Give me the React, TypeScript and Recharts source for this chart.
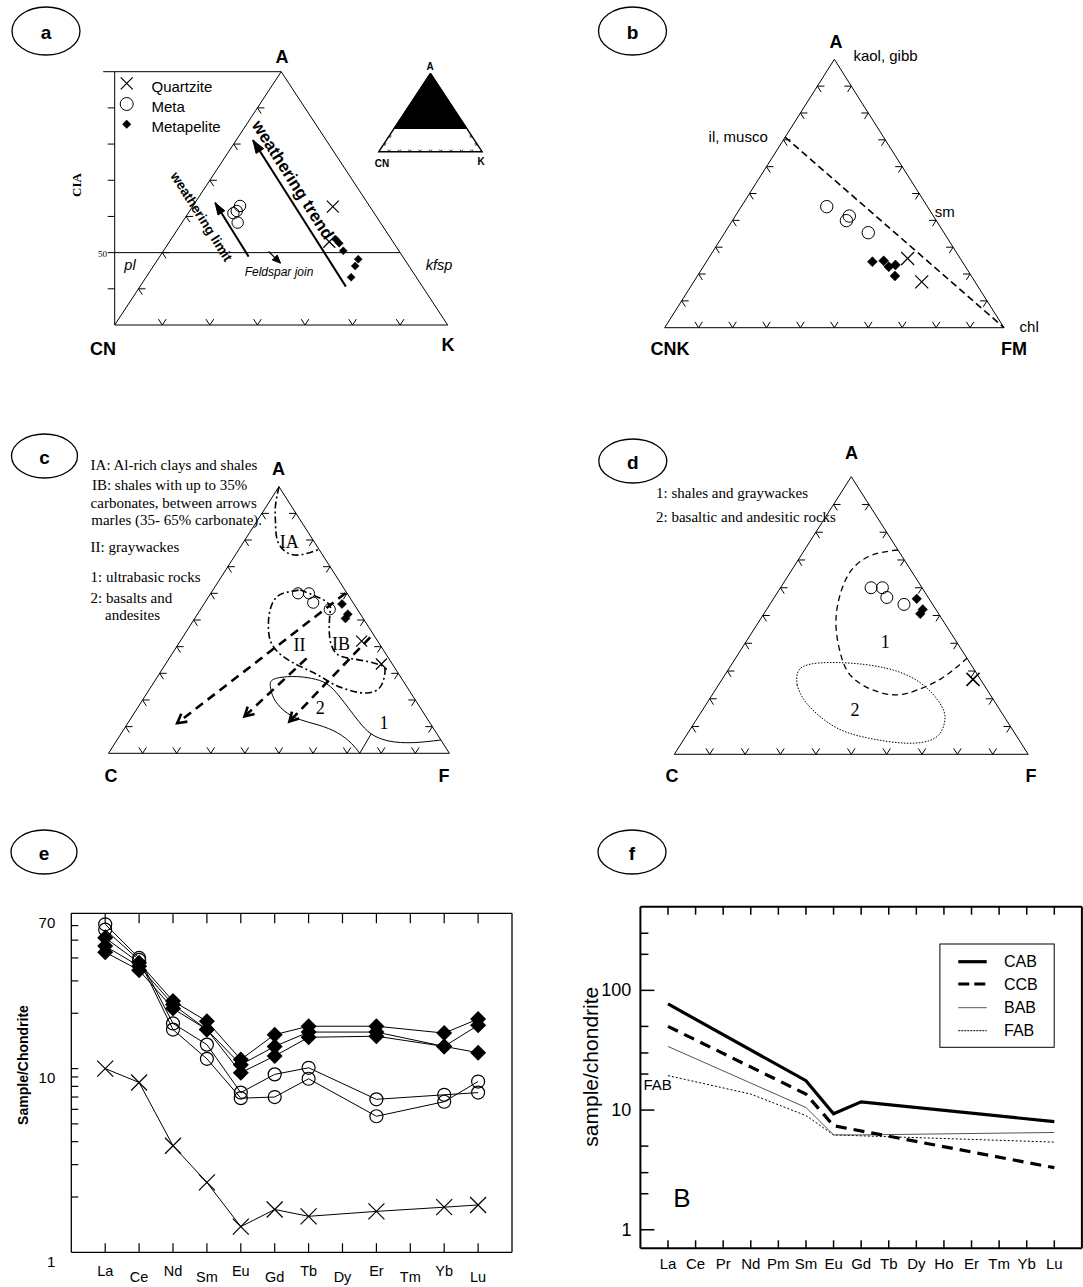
import React from 'react';
import { ComposedChart, Line, Scatter, Area, XAxis, YAxis } from 'recharts';

const W = 1083;
const H = 1287;
const SANS = "'Liberation Sans', Arial, Helvetica, sans-serif";
const SERIF = "'Liberation Serif', 'Times New Roman', Times, serif";

type Comp = [number, number, number]; // [top apex, lower-left, lower-right] in %
type Frame = { left: number; top: number; width: number; height: number; xd: [number, number]; yd: [number, number] };

// ---------- a: A - CN - K (CIA) ----------
const aQuartzite: Comp[] = [[62.7, 7.8, 29.5], [53.0, 13.4, 33.6]];
const aMeta: Comp[] = [[62.9, 27.2, 9.9], [61.5, 28.6, 9.9], [60.9, 29.6, 9.5], [58.3, 30.0, 11.7]];
const aPelite: Comp[] = [[53.7, 11.7, 34.6], [52.6, 11.5, 35.9], [50.5, 11.7, 37.8], [48.2, 9.7, 42.1], [46.3, 11.3, 42.4], [43.2, 13.7, 43.1]];
const aTrend: Comp[] = [[40.6, 16.1, 43.3], [81.1, 15.4, 3.5]];
const aLimit: Comp[] = [[48.9, 32.4, 18.7], [63.8, 32.0, 4.2]];
const aJoin: Comp[] = [[50.3, 27.5, 22.2], [47.1, 26.6, 26.3]];
const ciaTicks = [40, 50, 60, 70, 80, 90, 100];
const insetFill: Comp[] = [[29, 71, 0], [100, 0, 0], [29, 0, 71]];

// ---------- b: A - CNK - FM ----------
const bQuartzite: Comp[] = [[25.8, 15.5, 58.7], [17.1, 15.7, 67.2]];
const bMeta: Comp[] = [[45.1, 29.7, 25.2], [41.6, 24.8, 33.6], [39.9, 26.5, 33.6], [35.4, 22.3, 42.3]];
const bPelite: Comp[] = [[24.6, 26.5, 48.9], [24.9, 23.0, 52.1], [22.7, 22.6, 54.7], [23.4, 20.3, 56.3], [19.3, 22.5, 58.2]];
const bIlliteChlorite: Comp[] = [[71, 29, 0], [0, 0, 100]];

// ---------- c, d: A - C - F ----------
const acfMeta: Comp[] = [[60.0, 14.4, 25.6], [60.0, 11.2, 28.8], [56.5, 11.7, 31.8], [54.0, 8.1, 37.9]];
const acfPelite: Comp[] = [[56.0, 3.5, 40.5], [52.2, 3.7, 44.1], [50.6, 5.2, 44.2]];
const cQuartzite: Comp[] = [[42.1, 4.7, 53.2], [33.5, 3.2, 63.3]];
const dQuartzite: Comp[] = [[27.0, 2.1, 70.9]];

const cFieldIA: Comp[] = [[100, 0, 0], [92.5, 4.8, 2.7], [86.2, 7.9, 5.9], [80.0, 10.5, 9.5], [75.6, 10.2, 14.2], [74.4, 6.7, 18.9], [76.5, 0, 23.5]];
const cFieldII: Comp[] = [
  [61.3, 13.2, 25.5], [56.8, 7.6, 35.6], [52.6, 8.7, 38.7], [46.5, 12.0, 41.5], [41.1, 14.2, 44.7], [37.1, 14.3, 48.6],
  [35.6, 11.4, 53.0], [34.5, 7.0, 58.5], [33.2, 3.8, 63.0], [31.4, 3.2, 65.4], [27.2, 5.8, 67.0], [24.1, 8.8, 67.1],
  [22.6, 13.0, 64.4], [23.6, 17.4, 59.0], [26.0, 21.1, 52.9], [29.6, 24.1, 46.3], [32.6, 27.5, 39.9], [36.3, 30.6, 33.1],
  [41.1, 31.6, 27.3], [47.2, 29.5, 23.3], [53.8, 25.7, 20.5], [58.6, 21.4, 20.0], [60.4, 17.5, 22.1],
];
const cField12: Comp[] = [
  [0, 26.3, 73.7], [3.7, 26.9, 69.4], [7.7, 29.0, 63.3], [10.6, 33.1, 56.3], [12.7, 37.6, 49.7], [16.0, 40.5, 43.5],
  [20.6, 41.2, 38.2], [25.0, 40.0, 35.0], [27.8, 37.6, 34.6], [28.8, 31.6, 39.6], [28.1, 26.4, 45.5], [26.0, 22.9, 51.1],
  [21.5, 21.6, 56.9], [16.9, 21.1, 62.0], [11.9, 20.6, 67.5], [7.3, 19.3, 73.4], [4.6, 15.4, 80.0], [4.0, 8.6, 87.4], [5.0, 0, 95.0],
];
const cDivider: Comp[] = [[0, 26.3, 73.7], [7.3, 19.3, 73.4]];
const cArrows: Comp[][] = [
  [[60.0, 0.5, 39.5], [11.3, 74.2, 14.5]],
  [[35.6, 24.1, 40.3], [13.8, 53.2, 33.0]],
  [[43.5, 1.5, 55.0], [11.9, 41.0, 47.1]],
];
const dField1: Comp[] = [
  [73.6, 0, 26.4], [71.8, 8.1, 20.1], [66.4, 16.7, 16.9], [56.8, 24.9, 18.3], [46.0, 31.3, 22.7], [35.2, 35.2, 29.6],
  [28.0, 35.9, 36.1], [23.2, 32.4, 44.4], [21.4, 26.5, 52.1], [23.2, 19.7, 57.1], [27.4, 10.7, 61.9], [34.6, 0, 65.4],
];
const dField2: Comp[] = [
  [25.0, 52.8, 22.2], [31.6, 47.8, 20.6], [33.0, 36.3, 30.7], [31.0, 24.6, 44.4], [25.6, 17.5, 56.9], [17.2, 15.8, 67.0],
  [11.2, 18.1, 70.7], [5.8, 23.5, 70.7], [4.0, 32.3, 63.7], [5.8, 42.1, 52.1], [10.0, 49.8, 40.2], [18.4, 53.4, 28.2],
];

// ---------- e: REE of the samples ----------
const eElements = ['La', 'Ce', 'Nd', 'Sm', 'Eu', 'Gd', 'Tb', 'Dy', 'Er', 'Tm', 'Yb', 'Lu'];
const eQuartzite = [10.0, 8.4, 3.8, 2.4, 1.38, 1.71, 1.57, null, 1.67, null, 1.76, 1.81];
const eMetaA = [61, 40, 17.6, 13.5, 7.4, 9.3, 10.1, null, 6.8, null, 7.2, 7.4];
const eMetaB = [57, 39, 16.3, 11.3, 6.9, 7.0, 8.8, null, 5.5, null, 6.6, 8.5];
const ePeliteA = [51.5, 37.7, 23.3, 18.1, 11.2, 15.3, 17.0, null, 17.0, null, 15.6, 18.6];
const ePeliteB = [46.4, 36.1, 22.3, 16.3, 10.5, 13.2, 15.8, null, 15.8, null, 13.2, 17.2];
const ePeliteC = [43.0, 34.3, 21.2, 16.3, 9.5, 11.7, 14.8, null, 15.0, null, 13.2, 12.2];
const eYTicks = [1, 2, 3, 4, 5, 6, 7, 8, 9, 10, 20, 30, 40, 50, 60, 70];
const eYLabels = [1, 10, 70];

// ---------- f: reference basalts ----------
const fElements = ['La', 'Ce', 'Pr', 'Nd', 'Pm', 'Sm', 'Eu', 'Gd', 'Tb', 'Dy', 'Ho', 'Er', 'Tm', 'Yb', 'Lu'];
const fCAB = [77, null, null, null, null, 17.6, 9.3, 11.7, null, null, null, null, null, null, 8.0];
const fCCB = [50, null, null, null, null, 13.6, 7.4, null, null, null, null, null, null, null, 3.3];
const fBAB = [34, null, null, null, null, 10.5, 6.2, 6.2, null, null, null, null, null, null, 6.5];
const fFAB = [19.4, null, null, 13.6, null, 9.0, 6.2, null, null, null, null, null, null, null, 5.4];
const fYTicks = [1, 2, 3, 5, 10, 20, 30, 50, 100, 200, 300];
const fYLabels = [1, 10, 100];

// ---------- layout ----------
const frameA: Frame = { left: 114.7, top: 71.7, width: 333, height: 253.3, xd: [15, 85], yd: [30, 100] };
const frameInset: Frame = { left: 378.8, top: 73.3, width: 103.3, height: 78.4, xd: [0, 100], yd: [0, 100] };
const frameB: Frame = { left: 664.7, top: 59.3, width: 339.3, height: 268.4, xd: [0, 100], yd: [0, 100] };
const frameC: Frame = { left: 108.5, top: 486.7, width: 340.9, height: 266.6, xd: [0, 100], yd: [0, 100] };
const frameD: Frame = { left: 674.3, top: 476.7, width: 353.9, height: 277.6, xd: [0, 100], yd: [0, 100] };
const frameE = { left: 71.3, top: 913.3, width: 440.7, height: 339 };
const frameF = { left: 640.4, top: 906.7, width: 441.5, height: 341.6 };

const toXY = (c: Comp) => {
  const s = c[0] + c[1] + c[2];
  return { x: ((c[2] + c[0] / 2) * 100) / s, y: (c[0] * 100) / s };
};
const pts = (list: Comp[]) => list.map(toXY);
const closed = (list: Comp[]) => pts([...list, list[0]]);
const margins = (f: { left: number; top: number; width: number; height: number }, axis = 0) => ({
  left: f.left - axis,
  top: f.top - axis,
  right: W - f.left - f.width - axis,
  bottom: H - f.top - f.height - axis,
});
const unit = (x: number, y: number) => {
  const l = Math.hypot(x, y);
  return [x / l, y / l];
};
const tenths = [10, 20, 30, 40, 50, 60, 70, 80, 90];

function edgeTicks(side: string, values: number[], base = 0) {
  return values.map((v) => {
    const c: Comp = side === 'left' ? [v, 100 - v, 0] : side === 'right' ? [v, 0, 100 - v] : [base, 100 - base - v, v];
    return { ...toXY(c), side };
  });
}

function arrowTip(f: Frame, seg: Comp[]) {
  const [a, b] = seg.map(toXY);
  const sx = f.width / (f.xd[1] - f.xd[0]);
  const sy = f.height / (f.yd[1] - f.yd[0]);
  return [{ ...b, angle: Math.atan2(-(b.y - a.y) * sy, (b.x - a.x) * sx) }];
}

// ---------- shapes ----------
const cross = (s: number, sw = 1.2) => (p: any) => (
  <path d={`M${p.cx - s},${p.cy - s}L${p.cx + s},${p.cy + s}M${p.cx - s},${p.cy + s}L${p.cx + s},${p.cy - s}`} stroke="#000" strokeWidth={sw} fill="none" />
);
const ring = (r: number, sw = 1) => (p: any) => <circle cx={p.cx} cy={p.cy} r={r} fill="none" stroke="#000" strokeWidth={sw} />;
const diamond = (s: number) => (p: any) => (
  <path d={`M${p.cx},${p.cy - s}L${p.cx + s},${p.cy}L${p.cx},${p.cy + s}L${p.cx - s},${p.cy}Z`} fill="#000" stroke="#000" strokeWidth={0.5} />
);
const chevron = (f: Frame, L = 7, sw = 1) => (p: any) => {
  const up = unit(f.width / 2, -f.height);
  const down = unit(f.width / 2, f.height);
  const side = p.payload.side;
  const [d1, d2] =
    side === 'left' ? [[1, 0], down] : side === 'right' ? [[-1, 0], [-up[0], -up[1]]] : [up, [-down[0], -down[1]]];
  return (
    <path
      d={`M${p.cx + d1[0] * L},${p.cy + d1[1] * L}L${p.cx},${p.cy}L${p.cx + d2[0] * L},${p.cy + d2[1] * L}`}
      fill="none"
      stroke="#000"
      strokeWidth={sw}
    />
  );
};
const arrowHead = (len: number, half: number, filled: boolean, sw = 1) => (p: any) => {
  const ang = p.payload.angle;
  const ux = Math.cos(ang);
  const uy = Math.sin(ang);
  const bx = p.cx - ux * len;
  const by = p.cy - uy * len;
  const px = -uy * half;
  const py = ux * half;
  const d = `M${bx + px},${by + py}L${p.cx},${p.cy}L${bx - px},${by - py}${filled ? 'Z' : ''}`;
  return <path d={d} fill={filled ? '#000' : 'none'} stroke="#000" strokeWidth={sw} />;
};
const ciaTick = (p: any) => <line x1={p.cx} y1={p.cy} x2={p.cx - p.payload.len} y2={p.cy} stroke="#000" strokeWidth={1} />;

const line = (key: string, data: any[], extra: any = {}) => (
  <Line key={key} data={data} dataKey="y" type="linear" stroke="#000" strokeWidth={1} dot={false} activeDot={false} isAnimationActive={false} legendType="none" {...extra} />
);
const scatter = (key: string, data: any[], shape: any) => (
  <Scatter key={key} data={data} shape={shape} isAnimationActive={false} legendType="none" />
);

const abs: React.CSSProperties = { position: 'absolute', left: 0, top: 0 };

function Ternary({ f, children }: { f: Frame; children: React.ReactNode }) {
  return (
    <div style={abs}>
      <ComposedChart width={W} height={H} margin={margins(f)}>
        <XAxis type="number" dataKey="x" domain={f.xd} hide />
        <YAxis type="number" dataKey="y" domain={f.yd} hide />
        {children}
      </ComposedChart>
    </div>
  );
}

const fullTriangle: Comp[] = [[100, 0, 0], [0, 100, 0], [0, 0, 100]];

// ---------- REE axis ticks ----------
function eBottomTick(p: any) {
  const v = p.payload.value;
  return (
    <g>
      <line x1={p.x} y1={p.y} x2={p.x} y2={p.y - 9} stroke="#000" strokeWidth={1.2} />
      <text x={p.x} y={p.y + (v % 2 ? 19 : 25)} textAnchor="middle" dominantBaseline="central" fontSize={14.5} fontFamily={SANS}>
        {eElements[v - 1]}
      </text>
    </g>
  );
}
const eTopTick = (p: any) => <line x1={p.x} y1={p.y} x2={p.x} y2={p.y + 10} stroke="#000" strokeWidth={1.2} />;
function eLeftTick(p: any) {
  const v = p.payload.value;
  const edge = v === 1 || v === 70;
  return (
    <g>
      {!edge && <line x1={p.x} y1={p.y} x2={p.x + 7} y2={p.y} stroke="#000" strokeWidth={1.2} />}
      {eYLabels.includes(v) && (
        <text x={p.x - 16} y={p.y + 9} textAnchor="end" dominantBaseline="central" fontSize={15} fontFamily={SANS}>
          {v}
        </text>
      )}
    </g>
  );
}
function eRightTick(p: any) {
  const v = p.payload.value;
  if (v === 1 || v === 70) return <g />;
  return <line x1={p.x} y1={p.y} x2={p.x - 7} y2={p.y} stroke="#000" strokeWidth={1.2} />;
}

function fBottomTick(p: any) {
  const v = p.payload.value;
  return (
    <g>
      <line x1={p.x} y1={p.y} x2={p.x} y2={p.y - 8} stroke="#000" strokeWidth={1.5} />
      <text x={p.x} y={p.y + 15} textAnchor="middle" dominantBaseline="central" fontSize={15} fontFamily={SANS}>
        {fElements[v - 1]}
      </text>
    </g>
  );
}
const fTopTick = (p: any) => <line x1={p.x} y1={p.y} x2={p.x} y2={p.y + 8} stroke="#000" strokeWidth={1.5} />;
function fLeftTick(p: any) {
  const v = p.payload.value;
  const major = fYLabels.includes(v);
  return (
    <g>
      <line x1={p.x} y1={p.y} x2={p.x + (major ? 14 : 8)} y2={p.y} stroke="#000" strokeWidth={1.5} />
      {major && (
        <text x={p.x - 9} y={p.y} textAnchor="end" dominantBaseline="central" fontSize={18} fontFamily={SANS}>
          {v}
        </text>
      )}
    </g>
  );
}
function fRightTick(p: any) {
  const v = p.payload.value;
  const major = fYLabels.includes(v);
  return <line x1={p.x} y1={p.y} x2={p.x - (major ? 14 : 8)} y2={p.y} stroke="#000" strokeWidth={1.5} />;
}

const reeDot = (kind: string, s: number) => (p: any) => {
  if (p.cx == null || p.cy == null || p.value == null) return <g key={p.index} />;
  if (kind === 'x')
    return <path key={p.index} d={`M${p.cx - s},${p.cy - s}L${p.cx + s},${p.cy + s}M${p.cx - s},${p.cy + s}L${p.cx + s},${p.cy - s}`} stroke="#000" strokeWidth={1.2} fill="none" />;
  if (kind === 'o') return <circle key={p.index} cx={p.cx} cy={p.cy} r={s} fill="none" stroke="#000" strokeWidth={1.2} />;
  return <path key={p.index} d={`M${p.cx},${p.cy - s}L${p.cx + s},${p.cy}L${p.cx},${p.cy + s}L${p.cx - s},${p.cy}Z`} fill="#000" />;
};

const eRows = eElements.map((el, i) => ({
  i: i + 1,
  el,
  q: eQuartzite[i],
  m1: eMetaA[i],
  m2: eMetaB[i],
  p1: ePeliteA[i],
  p2: ePeliteB[i],
  p3: ePeliteC[i],
}));
const fRows = fElements.map((el, i) => ({ i: i + 1, el, cab: fCAB[i], ccb: fCCB[i], bab: fBAB[i], fab: fFAB[i] }));

function T({ x, y, size = 15, bold = false, italic = false, serif = false, anchor = 'start', rotate = 0, children }: any) {
  return (
    <text
      x={x}
      y={y}
      fontSize={size}
      fontWeight={bold ? 700 : 400}
      fontStyle={italic ? 'italic' : 'normal'}
      fontFamily={serif ? SERIF : SANS}
      textAnchor={anchor}
      dominantBaseline="central"
      transform={rotate ? `rotate(${rotate} ${x} ${y})` : undefined}
    >
      {children}
    </text>
  );
}

function Badge({ x, y, rx = 33, ry = 22, label }: any) {
  return (
    <g>
      <ellipse cx={x} cy={y} rx={rx} ry={ry} fill="none" stroke="#000" strokeWidth={1.3} />
      <T x={x} y={y + 1} size={19} bold anchor="middle">
        {label}
      </T>
    </g>
  );
}

export default function App() {
  const eAxisCommon = { type: 'number' as const, dataKey: 'i', domain: [0, 13], ticks: [1, 2, 3, 4, 5, 6, 7, 8, 9, 10, 11, 12], interval: 0, height: 1, tickLine: false, tickSize: 0, tickMargin: 0, axisLine: { stroke: '#000', strokeWidth: 1.3 } };
  const eYCommon = { type: 'number' as const, scale: 'log' as const, domain: [1, 70], ticks: eYTicks, interval: 0, width: 1, tickLine: false, tickSize: 0, tickMargin: 0, axisLine: { stroke: '#000', strokeWidth: 1.3 } };
  const fAxisCommon = { type: 'number' as const, dataKey: 'i', domain: [0, 16], ticks: fElements.map((_, i) => i + 1), interval: 0, height: 1, tickLine: false, tickSize: 0, tickMargin: 0, axisLine: { stroke: '#000', strokeWidth: 2 } };
  const fYCommon = { type: 'number' as const, scale: 'log' as const, domain: [0.7, 500], ticks: fYTicks, interval: 0, width: 1, tickLine: false, tickSize: 0, tickMargin: 0, axisLine: { stroke: '#000', strokeWidth: 2 } };

  return (
    <div style={{ position: 'absolute', left: 0, top: 0, width: W, height: H, background: '#fff', fontFamily: SANS, overflow: 'hidden' }}>
      {/* a */}
      <Ternary f={frameA}>
        {line('aTri', closed([[100, 0, 0], [30, 70, 0], [30, 0, 70]]))}
        {line('aCiaAxis', [{ x: 15, y: 30 }, { x: 15, y: 100 }])}
        {line('aCiaTop', [{ x: 15, y: 100 }, { x: 50, y: 100 }])}
        {line('aJoinLine', [{ x: 15, y: 50 }, { x: 75, y: 50 }])}
        {scatter('aCiaTicks', ciaTicks.map((v) => ({ x: 15, y: v, len: v === 100 ? 11.5 : 7 })), ciaTick)}
        {scatter('aTicksB', edgeTicks('bottom', [10, 20, 30, 40, 50, 60], 30), chevron(frameA))}
        {scatter('aTicksL', edgeTicks('left', [40, 50, 60, 70, 80, 90]), chevron(frameA))}
        {line('aTrend', pts(aTrend), { strokeWidth: 2 })}
        {scatter('aTrendHead', arrowTip(frameA, aTrend), arrowHead(13, 4.5, true))}
        {line('aLimit', pts(aLimit), { strokeWidth: 2 })}
        {scatter('aLimitHead', arrowTip(frameA, aLimit), arrowHead(12, 4, true))}
        {line('aJoinArr', pts(aJoin), { strokeWidth: 1.2 })}
        {scatter('aJoinHead', arrowTip(frameA, aJoin), arrowHead(8, 3.5, true))}
        {scatter('aMeta', pts(aMeta), ring(5.7))}
        {scatter('aQz', pts(aQuartzite), cross(6))}
        {scatter('aPel', pts(aPelite), diamond(4))}
      </Ternary>
      <div style={abs}>
        <ComposedChart width={W} height={H} margin={margins(frameInset)} data={pts(insetFill)}>
          <XAxis type="number" dataKey="x" domain={[0, 100]} hide />
          <YAxis type="number" dataKey="y" domain={[0, 100]} hide />
          <Area dataKey="y" type="linear" baseValue={29} fill="#000" fillOpacity={1} stroke="#000" isAnimationActive={false} legendType="none" />
          {line('insetTri', closed(fullTriangle), { strokeWidth: 1.5 })}
          {scatter('insetTicksB', edgeTicks('bottom', tenths), chevron(frameInset, 2.5, 0.8))}
          {scatter('insetTicksL', edgeTicks('left', [10, 20]), chevron(frameInset, 2.5, 0.8))}
          {scatter('insetTicksR', edgeTicks('right', [10, 20]), chevron(frameInset, 2.5, 0.8))}
        </ComposedChart>
      </div>

      {/* b */}
      <Ternary f={frameB}>
        {line('bTri', closed(fullTriangle))}
        {scatter('bTicksB', edgeTicks('bottom', tenths), chevron(frameB))}
        {scatter('bTicksL', edgeTicks('left', tenths), chevron(frameB))}
        {scatter('bTicksR', edgeTicks('right', tenths), chevron(frameB))}
        {line('bJoin', pts(bIlliteChlorite), { strokeWidth: 1.6, strokeDasharray: '7 4' })}
        {scatter('bMeta', pts(bMeta), ring(6.2))}
        {scatter('bQz', pts(bQuartzite), cross(6.5))}
        {scatter('bPel', pts(bPelite), diamond(5))}
      </Ternary>

      {/* c */}
      <Ternary f={frameC}>
        {line('cTri', closed(fullTriangle))}
        {scatter('cTicksB', edgeTicks('bottom', tenths), chevron(frameC))}
        {scatter('cTicksL', edgeTicks('left', tenths), chevron(frameC))}
        {scatter('cTicksR', edgeTicks('right', tenths), chevron(frameC))}
        {line('cIA', pts(cFieldIA), { type: 'natural', strokeWidth: 1.6, strokeDasharray: '7 3 2 3' })}
        {line('cII', closed(cFieldII), { type: 'natural', strokeWidth: 1.6, strokeDasharray: '7 3 2 3' })}
        {line('c12', pts(cField12), { type: 'natural', strokeWidth: 1 })}
        {line('cDiv', pts(cDivider), { strokeWidth: 1 })}
        {cArrows.map((seg, k) => line(`cArr${k}`, pts(seg), { strokeWidth: 2.6, strokeDasharray: '9 6' }))}
        {cArrows.map((seg, k) => scatter(`cArrHead${k}`, arrowTip(frameC, seg), arrowHead(9, 5, false, 2.6)))}
        {scatter('cMeta', pts(acfMeta), ring(5.6))}
        {scatter('cQz', pts(cQuartzite), cross(5.5))}
        {scatter('cPel', pts(acfPelite), diamond(4.5))}
      </Ternary>

      {/* d */}
      <Ternary f={frameD}>
        {line('dTri', closed(fullTriangle))}
        {scatter('dTicksB', edgeTicks('bottom', tenths), chevron(frameD))}
        {scatter('dTicksL', edgeTicks('left', tenths), chevron(frameD))}
        {scatter('dTicksR', edgeTicks('right', tenths), chevron(frameD))}
        {line('dF1', pts(dField1), { type: 'natural', strokeWidth: 1.3, strokeDasharray: '6 4' })}
        {line('dF2', closed(dField2), { type: 'natural', strokeWidth: 1, strokeDasharray: '1.5 1.5' })}
        {scatter('dMeta', pts(acfMeta), ring(6))}
        {scatter('dQz', pts(dQuartzite), cross(6.5, 1.5))}
        {scatter('dPel', pts(acfPelite), diamond(4.8))}
      </Ternary>

      {/* e */}
      <div style={abs}>
        <ComposedChart width={W} height={H} data={eRows} margin={margins(frameE, 1)}>
          <XAxis xAxisId="b" {...eAxisCommon} tick={eBottomTick} />
          <XAxis xAxisId="t" orientation="top" {...eAxisCommon} tick={eTopTick} />
          <YAxis yAxisId="l" {...eYCommon} tick={eLeftTick} />
          <YAxis yAxisId="r" orientation="right" {...eYCommon} tick={eRightTick} />
          <Line xAxisId="b" yAxisId="l" dataKey="q" connectNulls stroke="#000" strokeWidth={1} dot={reeDot('x', 8)} activeDot={false} isAnimationActive={false} legendType="none" />
          <Line xAxisId="b" yAxisId="l" dataKey="m1" connectNulls stroke="#000" strokeWidth={1} dot={reeDot('o', 6.5)} activeDot={false} isAnimationActive={false} legendType="none" />
          <Line xAxisId="b" yAxisId="l" dataKey="m2" connectNulls stroke="#000" strokeWidth={1} dot={reeDot('o', 6.5)} activeDot={false} isAnimationActive={false} legendType="none" />
          <Line xAxisId="b" yAxisId="l" dataKey="p1" connectNulls stroke="#000" strokeWidth={1} dot={reeDot('d', 8)} activeDot={false} isAnimationActive={false} legendType="none" />
          <Line xAxisId="b" yAxisId="l" dataKey="p2" connectNulls stroke="#000" strokeWidth={1} dot={reeDot('d', 8)} activeDot={false} isAnimationActive={false} legendType="none" />
          <Line xAxisId="b" yAxisId="l" dataKey="p3" connectNulls stroke="#000" strokeWidth={1} dot={reeDot('d', 8)} activeDot={false} isAnimationActive={false} legendType="none" />
        </ComposedChart>
      </div>

      {/* f */}
      <div style={abs}>
        <ComposedChart width={W} height={H} data={fRows} margin={margins(frameF, 1)}>
          <XAxis xAxisId="b" {...fAxisCommon} tick={fBottomTick} />
          <XAxis xAxisId="t" orientation="top" {...fAxisCommon} tick={fTopTick} />
          <YAxis yAxisId="l" {...fYCommon} tick={fLeftTick} />
          <YAxis yAxisId="r" orientation="right" {...fYCommon} tick={fRightTick} />
          <Line xAxisId="b" yAxisId="l" dataKey="fab" connectNulls stroke="#000" strokeWidth={1} strokeDasharray="2 2" dot={false} activeDot={false} isAnimationActive={false} legendType="none" />
          <Line xAxisId="b" yAxisId="l" dataKey="bab" connectNulls stroke="#555" strokeWidth={1} dot={false} activeDot={false} isAnimationActive={false} legendType="none" />
          <Line xAxisId="b" yAxisId="l" dataKey="ccb" connectNulls stroke="#000" strokeWidth={3.2} strokeDasharray="11 7" dot={false} activeDot={false} isAnimationActive={false} legendType="none" />
          <Line xAxisId="b" yAxisId="l" dataKey="cab" connectNulls stroke="#000" strokeWidth={3.2} dot={false} activeDot={false} isAnimationActive={false} legendType="none" />
        </ComposedChart>
      </div>

      {/* text, badges and legends */}
      <svg width={W} height={H} style={{ ...abs, pointerEvents: 'none' }}>
        <Badge x={46} y={31} rx={34} ry={24} label="a" />
        <T x={282} y={57} size={18} bold anchor="middle">A</T>
        <T x={103} y={349} size={18} bold anchor="middle">CN</T>
        <T x={448} y={345} size={18} bold anchor="middle">K</T>
        <T x={76.4} y={185} size={13} bold serif anchor="middle" rotate={-90}>CIA</T>
        <T x={102.6} y={254} size={9} serif anchor="middle">50</T>
        <T x={130} y={265} size={14.5} italic anchor="middle">pl</T>
        <T x={439} y={265} size={14.5} italic anchor="middle">kfsp</T>
        <T x={279} y={272} size={12} italic anchor="middle">Feldspar join</T>
        <path d="M120.7,77.3L132.7,89.3M120.7,89.3L132.7,77.3" stroke="#000" strokeWidth={1.2} />
        <circle cx={126.7} cy={104} r={6.5} fill="none" stroke="#000" />
        <path d="M126.7,119.8L131.2,124.3L126.7,128.8L122.2,124.3Z" fill="#000" />
        <T x={151.5} y={86.7}>Quartzite</T>
        <T x={151.5} y={106.7}>Meta</T>
        <T x={151.5} y={126.7}>Metapelite</T>
        <T x={292.7} y={180} size={17} bold anchor="middle" rotate={57.6}>weathering trend</T>
        <T x={201.4} y={216.7} size={13.5} bold anchor="middle" rotate={57.6}>weathering limit</T>
        <T x={430} y={66} size={10} bold anchor="middle">A</T>
        <T x={382} y={163} size={10} bold anchor="middle">CN</T>
        <T x={481} y={161} size={10} bold anchor="middle">K</T>

        <Badge x={632.5} y={31} rx={34} ry={24} label="b" />
        <T x={836} y={42} size={18} bold anchor="middle">A</T>
        <T x={853.4} y={55}>kaol, gibb</T>
        <T x={767.8} y={136.7} anchor="end">il, musco</T>
        <T x={934.7} y={211}>sm</T>
        <T x={1019.6} y={326}>chl</T>
        <T x={670} y={349} size={18} bold anchor="middle">CNK</T>
        <T x={1014} y={349} size={18} bold anchor="middle">FM</T>

        <Badge x={44.5} y={456} label="c" />
        <T x={278.5} y={468.5} size={18} bold anchor="middle">A</T>
        <T x={111} y={776} size={18} bold anchor="middle">C</T>
        <T x={444} y={776} size={18} bold anchor="middle">F</T>
        <T x={90.6} y={465} serif>IA: Al-rich clays and shales</T>
        <T x={91.9} y={485} serif>IB: shales with up to 35%</T>
        <T x={90.6} y={502.7} serif>carbonates, between arrows</T>
        <T x={91.3} y={520} serif>marles (35- 65% carbonate).</T>
        <T x={90.6} y={547.3} serif>II: graywackes</T>
        <T x={90.6} y={576.7} serif>1: ultrabasic rocks</T>
        <T x={90.6} y={597.7} serif>2: basalts and</T>
        <T x={105} y={615} serif>andesites</T>
        <T x={289.3} y={541.7} size={18} serif anchor="middle">IA</T>
        <T x={299.6} y={645} size={18} serif anchor="middle">II</T>
        <T x={340.9} y={644} size={18} serif anchor="middle">IB</T>
        <T x={320.2} y={708.3} size={18} serif anchor="middle">2</T>
        <T x={384} y={722.7} size={18} serif anchor="middle">1</T>

        <Badge x={632.8} y={461} rx={34} label="d" />
        <T x={851.6} y={452.7} size={18} bold anchor="middle">A</T>
        <T x={672} y={776} size={18} bold anchor="middle">C</T>
        <T x={1031} y={776} size={18} bold anchor="middle">F</T>
        <T x={656} y={493.3} serif>1: shales and graywackes</T>
        <T x={656} y={516.7} serif>2: basaltic and andesitic rocks</T>
        <T x={885.2} y={641.7} size={18} serif anchor="middle">1</T>
        <T x={855.1} y={710} size={18} serif anchor="middle">2</T>

        <Badge x={44} y={852} label="e" />
        <T x={23.4} y={1065} size={14} bold anchor="middle" rotate={-90}>Sample/Chondrite</T>

        <Badge x={632} y={852} rx={34} label="f" />
        <T x={590.2} y={1066.7} size={21} anchor="middle" rotate={-90}>sample/chondrite</T>
        <T x={657.7} y={1084} size={15} anchor="middle">FAB</T>
        <T x={682} y={1198} size={26} anchor="middle">B</T>
        <rect x={939.9} y={944} width={114.3} height={103.3} fill="#fff" stroke="#000" strokeWidth={1} />
        <line x1={958.3} y1={961.7} x2={986.7} y2={961.7} stroke="#000" strokeWidth={3.2} />
        <line x1={958.3} y1={984} x2={986.7} y2={984} stroke="#000" strokeWidth={3.2} strokeDasharray="11 5" />
        <line x1={958.3} y1={1007.7} x2={986.7} y2={1007.7} stroke="#555" strokeWidth={1} />
        <line x1={958.3} y1={1030.7} x2={986.7} y2={1030.7} stroke="#000" strokeWidth={1} strokeDasharray="2 1" />
        <T x={1004} y={961.7} size={16}>CAB</T>
        <T x={1004} y={984} size={16}>CCB</T>
        <T x={1004} y={1007.7} size={16}>BAB</T>
        <T x={1004} y={1030.7} size={16}>FAB</T>
      </svg>
    </div>
  );
}
